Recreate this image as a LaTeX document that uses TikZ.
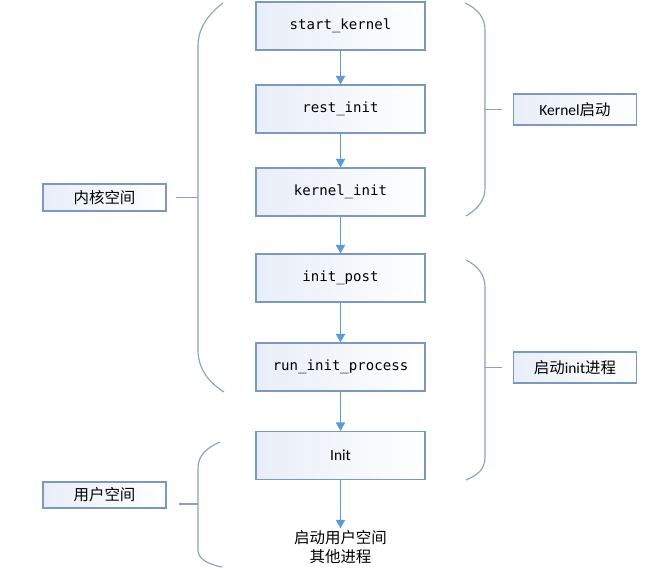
\documentclass[tikz,border=0pt]{standalone}
\usepackage{fontspec}
\setmainfont{Carlito}
\setmonofont{DejaVu Sans Mono}
\newfontfamily\cjk{Noto Sans CJK SC}
\usetikzlibrary{arrows.meta}
\definecolor{boxline}{RGB}{125,152,190}
\definecolor{boxfill}{RGB}{232,238,248}
\definecolor{braceline}{RGB}{138,160,192}
\definecolor{flowblue}{RGB}{91,155,213}
\tikzset{
  fnbox/.style={draw=boxline,line width=0.8pt,left color=boxfill,right color=white,
    minimum width=4.225cm,minimum height=1.2cm,inner sep=0pt,
    font=\ttfamily\fontsize{10}{12}\selectfont},
  tagbox/.style={draw=boxline,line width=0.8pt,left color=boxfill,right color=white,
    minimum width=3.075cm,minimum height=0.72cm,inner sep=0pt,
    font=\fontsize{11}{13}\selectfont},
  flow/.style={draw=flowblue,line width=0.9pt,-{Triangle[width=6.5pt,length=6pt]}},
  brace/.style={draw=braceline,line width=0.8pt}
}
\begin{document}
\begin{tikzpicture}[x=0.025cm,y=-0.025cm]
    \useasboundingbox (0,0) rectangle (672,569);
    % main column
    \node[fnbox] (sk) at (340.5,26) {start\_kernel};
    \node[fnbox] (ri) at (340.5,109) {rest\_init};
    \node[fnbox] (ki) at (340.5,192) {kernel\_init};
    \node[fnbox] (ip) at (340.5,278) {init\_post};
    \node[fnbox] (rp) at (340.5,367) {run\_init\_process};
    \node[fnbox,font=\fontsize{11}{13}\selectfont] (in) at (340.5,455.5) {Init};
    \node[align=center,inner sep=1pt,font=\cjk\fontsize{11}{14}\selectfont] (ot) at (340.5,547) {启动用户空间\\其他进程};
    \draw[flow] (sk) -- (ri);
    \draw[flow] (ri) -- (ki);
    \draw[flow] (ki) -- (ip);
    \draw[flow] (ip) -- (rp);
    \draw[flow] (rp) -- (in);
    \draw[flow] (in) -- (ot);
    % tags
    \node[tagbox,minimum height=0.675cm] (nk) at (104.5,197.5) {\cjk 内核空间};
    \node[tagbox,minimum height=0.65cm] (yh) at (104.5,495) {\cjk 用户空间};
    \node[tagbox,minimum height=0.775cm] (kq) at (575,109.5) {Kernel{\cjk 启动}};
    \node[tagbox,minimum height=0.775cm] (iq) at (575,367.5) {{\cjk 启动}init{\cjk 进程}};
    % braces
    \draw[brace] (223,3) .. controls (206,16) and (198,30) .. (198,46) -- (198,350)
        .. controls (198,368) and (208,382) .. (224,392);
    \draw[brace] (220,442) .. controls (206,448) and (198,456) .. (198,468) -- (198,550)
        .. controls (198,558) and (206,564) .. (222,567);
    \draw[brace] (465,3) .. controls (478,9) and (485,18) .. (485,30) -- (485,188)
        .. controls (485,200) and (478,209) .. (466,216);
    \draw[brace] (466,260) .. controls (478,266) and (485,275) .. (485,287) -- (485,457)
        .. controls (485,469) and (478,475) .. (466,480);
    \coordinate (bl) at (198,197.5);
    \coordinate (bu) at (198,504);
    \coordinate (br1) at (485,109.5);
    \coordinate (br2) at (485,367.5);
    \draw[brace,shorten <=7pt] (nk) -- (bl);
    \draw[brace] (bu) -- ++(-19,0);
    \draw[brace,shorten >=8pt] (br1) -- (kq);
    \draw[brace,shorten >=8pt] (br2) -- (iq);
\end{tikzpicture}
\end{document}
